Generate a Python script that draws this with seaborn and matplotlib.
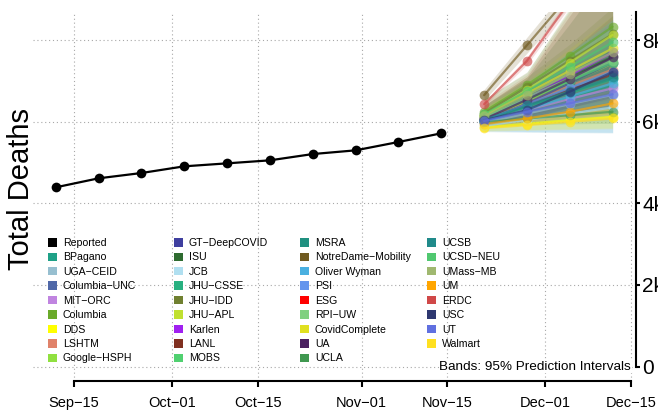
import pandas as pd
import numpy as np
import matplotlib
matplotlib.use("Agg")
import matplotlib.pyplot as plt
import matplotlib.dates as mdates
import matplotlib.transforms as mtransforms
from matplotlib.patches import Patch
import seaborn as sns

sns.set_style("white")
plt.rcParams["font.family"] = ["Liberation Sans", "DejaVu Sans"]
plt.rcParams["text.color"] = "black"
plt.rcParams["axes.labelcolor"] = "black"

# -- Data -------------------------------------------------------
reported_dates = pd.to_datetime(["2020-09-12", "2020-09-19", "2020-09-26", "2020-10-03",
                                 "2020-10-10", "2020-10-17", "2020-10-24", "2020-10-31",
                                 "2020-11-07", "2020-11-14"])
reported_deaths = [4392, 4613, 4743, 4907, 4980, 5054, 5208, 5299, 5503, 5716]

forecast_dates = pd.to_datetime(["2020-11-21", "2020-11-28", "2020-12-05", "2020-12-12"])

legend_cols = [
    ["Reported", "BPagano", "UGA-CEID", "Columbia-UNC", "MIT-ORC", "Columbia", "DDS", "LSHTM", "Google-HSPH"],
    ["GT-DeepCOVID", "ISU", "JCB", "JHU-CSSE", "JHU-IDD", "JHU-APL", "Karlen", "LANL", "MOBS"],
    ["MSRA", "NotreDame-Mobility", "Oliver Wyman", "PSI", "ESG", "RPI-UW", "CovidComplete", "UA", "UCLA"],
    ["UCSB", "UCSD-NEU", "UMass-MB", "UM", "ERDC", "USC", "UT", "Walmart"],
]

model_colors = {
    "Reported": "#000000", "BPagano": "#1fa187", "UGA-CEID": "#97bfd0", "Columbia-UNC": "#5068a8",
    "MIT-ORC": "#c084e0", "Columbia": "#6aaa2a", "DDS": "#ffff00", "LSHTM": "#e0826a",
    "Google-HSPH": "#90e040", "GT-DeepCOVID": "#3f3f9f", "ISU": "#2e6b30", "JCB": "#b0dff0",
    "JHU-CSSE": "#28b080", "JHU-IDD": "#708030", "JHU-APL": "#c0e030", "Karlen": "#a020f0",
    "LANL": "#803020", "MOBS": "#50d070", "MSRA": "#209080", "NotreDame-Mobility": "#705a20",
    "Oliver Wyman": "#4ab0e0", "PSI": "#6495ed", "ESG": "#ff0000", "RPI-UW": "#80d080",
    "CovidComplete": "#e0e020", "UA": "#4a2060", "UCLA": "#409850", "UCSB": "#208a8a",
    "UCSD-NEU": "#50c870", "UMass-MB": "#a0b870", "UM": "#ffa500", "ERDC": "#d04848",
    "USC": "#2e3870", "UT": "#6070e0", "Walmart": "#ffe020",
}

median = {
    "BPagano": [6010, 6300, 6600, 6900], "UGA-CEID": [5980, 6200, 6430, 6660],
    "Columbia-UNC": [6060, 6420, 6800, 7180], "MIT-ORC": [6020, 6290, 6560, 6820],
    "Columbia": [6245, 6900, 7610, 8330], "DDS": [5860, 5950, 6040, 6120],
    "LSHTM": [6100, 6480, 6880, 7280], "Google-HSPH": [6050, 6500, 6960, 7430],
    "GT-DeepCOVID": [6000, 6450, 6950, 7450], "ISU": [6130, 6600, 7100, 7600],
    "JCB": [5900, 6050, 6200, 6350], "JHU-CSSE": [6030, 6370, 6700, 7040],
    "JHU-IDD": [6200, 6850, 7500, 8150], "JHU-APL": [6150, 6780, 7450, 8130],
    "Karlen": [6080, 6580, 7130, 7700], "LANL": [6070, 6420, 6780, 7150],
    "MOBS": [6100, 6550, 7000, 7450], "MSRA": [6040, 6380, 6720, 7060],
    "NotreDame-Mobility": [6650, 7875, 9100, 10330], "Oliver Wyman": [6000, 6300, 6620, 6940],
    "PSI": [6050, 6430, 6830, 7230], "RPI-UW": [6120, 6600, 7060, 7500],
    "CovidComplete": [6160, 6700, 7250, 7800], "UA": [6060, 6540, 7050, 7580],
    "UCLA": [5990, 6080, 6160, 6245], "UCSB": [6050, 6400, 6750, 7100],
    "UCSD-NEU": [6180, 6750, 7350, 7950], "UMass-MB": [6140, 6650, 7180, 7700],
    "UM": [5940, 6080, 6245, 6450], "ERDC": [6430, 7490, 8950, 10400],
    "USC": [6040, 6285, 6735, 7220], "UT": [6020, 6245, 6450, 6670],
    "Walmart": [5840, 5915, 6000, 6083],
}

lower = {
    "BPagano": [5900, 6050, 6150, 6250], "UGA-CEID": [5760, 5745, 5735, 5730],
    "Columbia-UNC": [5920, 6100, 6250, 6400], "MIT-ORC": [5900, 6050, 6200, 6300],
    "Columbia": [5980, 6250, 6550, 6850], "DDS": [5790, 5810, 5830, 5850],
    "LSHTM": [5900, 6000, 6100, 6200], "Google-HSPH": [5920, 6200, 6450, 6700],
    "GT-DeepCOVID": [5880, 6150, 6450, 6700], "ISU": [5850, 5950, 6050, 6150],
    "JCB": [5755, 5740, 5730, 5720], "JHU-CSSE": [5900, 6100, 6300, 6450],
    "JHU-IDD": [5900, 6150, 6400, 6650], "JHU-APL": [5950, 6300, 6650, 7000],
    "Karlen": [5950, 6300, 6650, 7000], "LANL": [5950, 6150, 6350, 6550],
    "MOBS": [5900, 6100, 6300, 6450], "MSRA": [5900, 6050, 6200, 6350],
    "NotreDame-Mobility": [6520, 7680, 8850, 10000], "Oliver Wyman": [5780, 5760, 5750, 5740],
    "PSI": [5900, 6100, 6300, 6500], "RPI-UW": [5950, 6250, 6500, 6750],
    "CovidComplete": [5950, 6250, 6550, 6850], "UA": [5950, 6300, 6650, 7000],
    "UCLA": [5900, 5930, 5950, 5960], "UCSB": [5900, 6050, 6200, 6350],
    "UCSD-NEU": [5950, 6250, 6550, 6850], "UMass-MB": [5900, 6100, 6300, 6500],
    "UM": [5850, 5920, 5990, 6060], "ERDC": [6380, 7400, 8820, 10230],
    "USC": [5930, 6080, 6350, 6600], "UT": [5930, 6080, 6220, 6350],
    "Walmart": [5770, 5790, 5810, 5830],
}

upper = {
    "BPagano": [6150, 6600, 7100, 7650], "UGA-CEID": [6200, 6650, 7150, 7700],
    "Columbia-UNC": [6300, 6900, 7700, 8500], "MIT-ORC": [6150, 6550, 7000, 7450],
    "Columbia": [6400, 7100, 7900, 8800], "DDS": [5930, 6090, 6250, 6400],
    "LSHTM": [6450, 7150, 8700, 10000], "Google-HSPH": [6200, 6800, 7500, 8200],
    "GT-DeepCOVID": [6200, 6850, 7700, 8600], "ISU": [6400, 7050, 8400, 9800],
    "JCB": [6100, 6400, 6750, 7100], "JHU-CSSE": [6150, 6650, 7150, 7650],
    "JHU-IDD": [6550, 7220, 8750, 10300], "JHU-APL": [6350, 7000, 7800, 8600],
    "Karlen": [6250, 6900, 7650, 8450], "LANL": [6400, 7100, 8600, 10000],
    "MOBS": [6300, 6900, 7600, 8300], "MSRA": [6200, 6750, 7350, 8000],
    "NotreDame-Mobility": [6790, 8070, 9350, 10650], "Oliver Wyman": [6250, 6900, 7700, 8500],
    "PSI": [6250, 6850, 7600, 8400], "RPI-UW": [6300, 6950, 7700, 8500],
    "CovidComplete": [6350, 6950, 7600, 8300], "UA": [6200, 6800, 7450, 8150],
    "UCLA": [6080, 6250, 6420, 6600], "UCSB": [6250, 6800, 7400, 8000],
    "UCSD-NEU": [6350, 7000, 7700, 8400], "UMass-MB": [6550, 7200, 8800, 10300],
    "UM": [6030, 6250, 6500, 6800], "ERDC": [6480, 7580, 9080, 10570],
    "USC": [6150, 6500, 7100, 7800], "UT": [6110, 6410, 6680, 6990],
    "Walmart": [5910, 6040, 6190, 6340],
}

x_ticks = pd.to_datetime(["2020-09-15", "2020-10-01", "2020-10-15", "2020-11-01",
                          "2020-11-15", "2020-12-01", "2020-12-15"])
x_labels = ["Sep\u221215", "Oct\u221201", "Oct\u221215", "Nov\u221201",
            "Nov\u221215", "Dec\u221201", "Dec\u221215"]
y_ticks = [0, 2000, 4000, 6000, 8000]
y_labels = ["0", "2k", "4k", "6k", "8k"]

# -- Figure -----------------------------------------------------
W, H = 658, 413
fig = plt.figure(figsize=(W / 100, H / 100), dpi=100)
ax = fig.add_axes([33 / W, 1 - 381 / H, 600 / W, 369 / H])

ax.set_xticks(x_ticks)
ax.set_yticks(y_ticks)
ax.grid(True, color="#a8a8a8", linestyle=(0, (1, 2.5)), linewidth=0.8)
ax.set_axisbelow(True)

# each model: band first, then its line (later bands veil earlier lines)
for m in median:
    ax.fill_between(forecast_dates, lower[m], upper[m],
                    color=model_colors[m], alpha=0.18, linewidth=0)
    sns.lineplot(x=forecast_dates, y=median[m], color=model_colors[m], marker="o",
                 markersize=7, markeredgewidth=0, linewidth=1.6, alpha=0.65, ax=ax)

sns.lineplot(x=reported_dates, y=reported_deaths, color="black", marker="o",
             markersize=7, markeredgewidth=0, linewidth=1.6, ax=ax)

ax.set_xlim(x_ticks[0] - pd.Timedelta(hours=161), x_ticks[-1] + pd.Timedelta(hours=8))
ax.set_ylim(-355, 8690)
ax.set_xticklabels(x_labels)
ax.set_yticklabels(y_labels)
ax.set_xlabel("")
ax.set_ylabel("")

for side in ["top", "left"]:
    ax.spines[side].set_visible(False)
ax.spines["bottom"].set_bounds(mdates.date2num(x_ticks[0]), mdates.date2num(x_ticks[-1]))
ax.spines["right"].set_bounds(0, 8690)
ax.spines["right"].set_position(("outward", 2))
for side in ["bottom", "right"]:
    ax.spines[side].set_linewidth(1.5)
    ax.spines[side].set_color("black")

ax.yaxis.tick_right()
ax.tick_params(axis="y", right=True, left=False, length=3, width=1.5, pad=1.5,
               labelsize=15, colors="black")
ax.tick_params(axis="x", bottom=True, length=4, width=1.5, pad=7,
               labelsize=10.5, colors="black")

fig.text(21 / W, 1 - 189 / H, "Total Deaths", rotation=90, fontsize=21,
         ha="center", va="center", color="black")

trans = mtransforms.blended_transform_factory(ax.transAxes, ax.transData)
ax.text(0.997, 0, "Bands: 95% Prediction Intervals", transform=trans,
        ha="right", va="center", fontsize=9.7, color="black",
        bbox=dict(facecolor="white", edgecolor="none", pad=0.5))

# -- Legend: four fixed-position columns ------------------------
col_x = [48, 174, 300, 427]
for cx, names in zip(col_x, legend_cols):
    handles = [Patch(facecolor=model_colors[n], edgecolor="none") for n in names]
    labels = [n.replace("-", "\u2212") for n in names]
    fig.legend(handles, labels, loc="upper left",
               bbox_to_anchor=(cx / W, 1 - 238 / H), labelcolor="black",
               frameon=False, fontsize=7.6, handlelength=0.85, handleheight=0.85,
               handletextpad=0.55, labelspacing=0.42, borderpad=0, borderaxespad=0)

fig.savefig("out.png", dpi=100)
